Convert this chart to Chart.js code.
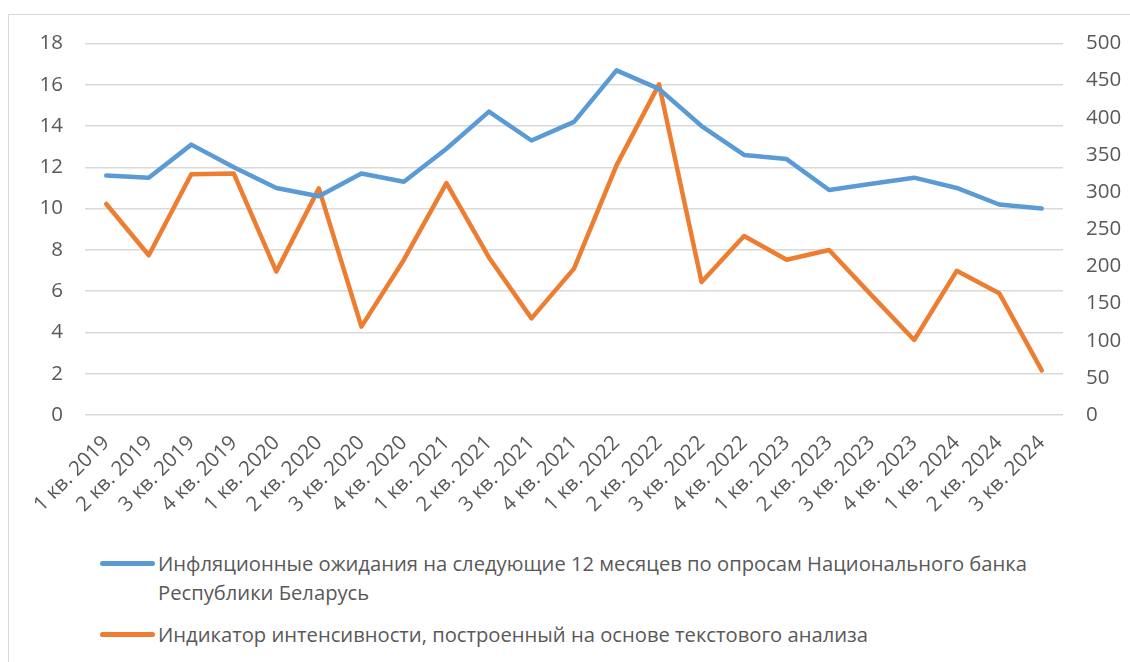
<!DOCTYPE html>
<html>
<head>
<meta charset="utf-8">
<script src="https://cdn.jsdelivr.net/npm/chart.js@4.4.0/dist/chart.umd.min.js"></script>
<style>
  body { margin: 0; background: #fff; width: 1130px; height: 662px; overflow: hidden; position: relative; font-family: "Open Sans", sans-serif; }
  #ramka { position: absolute; left: 8px; top: 14px; width: 1140px; height: 680px; border: 1.5px solid #d9d9d9; box-sizing: border-box; }
  #grafico { position: absolute; left: 0; top: 0; }
  .leyenda { position: absolute; left: 100px; width: 980px; color: #595959; font-size: 20.2px; line-height: 29px; }
  .leyenda .linea { position: absolute; left: 0; top: 12px; width: 55px; height: 5px; border-radius: 3px; }
  .leyenda .texto { margin-left: 58px; width: 910px; }
</style>
</head>
<body>
<div id="ramka"></div>
<canvas id="grafico" width="1130" height="530"></canvas>
<div id="leyendas"></div>
<script>
//DATOS
var trimestres = ['1 кв. 2019','2 кв. 2019','3 кв. 2019','4 кв. 2019','1 кв. 2020','2 кв. 2020','3 кв. 2020','4 кв. 2020',
  '1 кв. 2021','2 кв. 2021','3 кв. 2021','4 кв. 2021','1 кв. 2022','2 кв. 2022','3 кв. 2022','4 кв. 2022',
  '1 кв. 2023','2 кв. 2023','3 кв. 2023','4 кв. 2023','1 кв. 2024','2 кв. 2024','3 кв. 2024'];
var expectativas = [11.6, 11.5, 13.1, 12.0, 11.0, 10.6, 11.7, 11.3, 12.9, 14.7, 13.3, 14.2, 16.7, 15.8, 14.0, 12.6, 12.4, 10.9, 11.2, 11.5, 11.0, 10.2, 10.0];
var indicador = [284, 215, 324, 325, 193, 305, 119, 209, 312, 212, 130, 197, 336, 445, 179, 241, 209, 222, 161, 101, 194, 164, 60];
var nombreExpectativas = 'Инфляционные ожидания на следующие 12 месяцев по опросам Национального банка Республики Беларусь';
var nombreIndicador = 'Индикатор интенсивности, построенный на основе текстового анализа';
var colorAzul = '#5B9BD5';
var colorNaranja = '#ED7D31';

var grafico = document.getElementById('grafico').getContext('2d');
var letra = { family: '"Open Sans", sans-serif', size: 20.5 };

var config = {
  type: 'line',
  data: {
    labels: trimestres,
    datasets: [{
      label: nombreExpectativas,
      data: expectativas,
      borderColor: colorAzul,
      backgroundColor: colorAzul,
      borderWidth: 4.5,
      pointRadius: 0,
      borderCapStyle: 'round',
      borderJoinStyle: 'round',
      yAxisID: 'y'
    }, {
      label: nombreIndicador,
      data: indicador,
      borderColor: colorNaranja,
      backgroundColor: colorNaranja,
      borderWidth: 4.5,
      pointRadius: 0,
      borderCapStyle: 'round',
      borderJoinStyle: 'round',
      yAxisID: 'y1'
    }]
  },
  options: {
    responsive: false,
    animation: false,
    layout: { padding: { top: 43.5, left: 0, right: 0, bottom: 0 } },
    plugins: { legend: { display: false }, tooltip: { enabled: false } },
    scales: {
      x: {
        offset: true,
        grid: { display: false },
        border: { display: false },
        ticks: { color: '#595959', font: letra, maxRotation: 45, minRotation: 45, autoSkip: false, padding: 8 },
        afterFit: function (s) { s.height = 115; }
      },
      y: {
        position: 'left',
        min: 0, max: 18,
        grid: { color: '#d9d9d9', lineWidth: 1.5, drawTicks: false },
        border: { display: false },
        ticks: { stepSize: 2, color: '#595959', font: letra, padding: 22 },
        afterFit: function (s) { s.width = 85; }
      },
      y1: {
        position: 'right',
        min: 0, max: 500,
        grid: { display: false, drawTicks: false },
        border: { display: false },
        ticks: { stepSize: 50, color: '#595959', font: letra, padding: 23 },
        afterFit: function (s) { s.width = 67; }
      }
    }
  }
};
var miGrafico = new Chart(grafico, config);

//LEYENDA
var cajaLeyenda = document.getElementById('leyendas');
var posiciones = [549, 620];
config.data.datasets.forEach(function (ds, i) {
  var d = document.createElement('div');
  d.className = 'leyenda';
  d.style.top = posiciones[i] + 'px';
  d.innerHTML = '<div class="linea" style="background:' + ds.borderColor + '"></div><div class="texto">' + ds.label + '</div>';
  cajaLeyenda.appendChild(d);
});
</script>
</body>
</html>
